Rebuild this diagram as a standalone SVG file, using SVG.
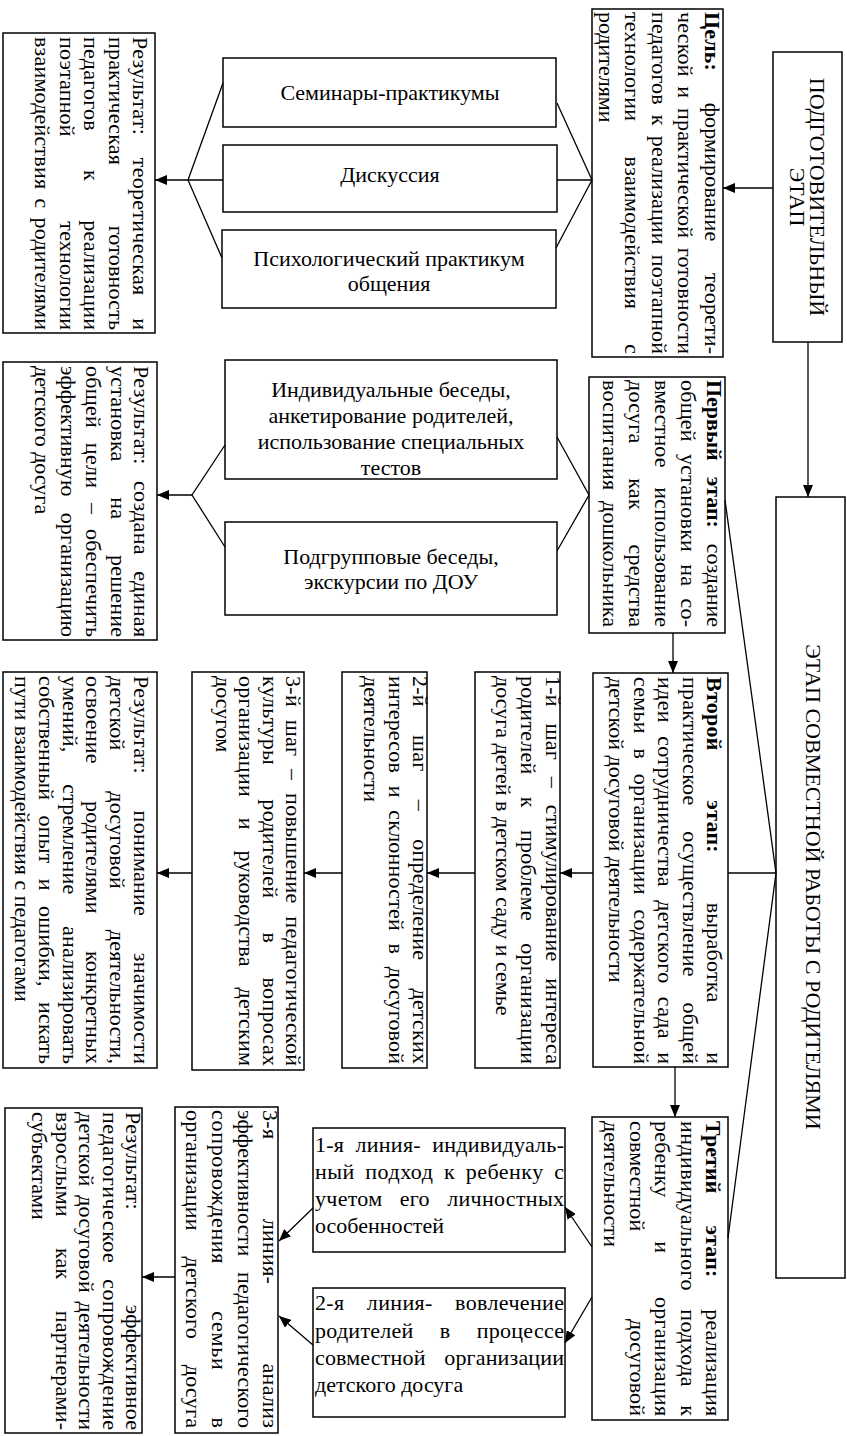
<svg xmlns="http://www.w3.org/2000/svg" width="847" height="1436" viewBox="0 0 847 1436">
<defs>
<style>
.box{fill:#fff;stroke:#000;stroke-width:1.5}
.t{font-family:"Liberation Serif","Times New Roman",serif;font-size:22px;fill:#000}
.c{text-anchor:middle}
.b{font-weight:bold}
.ln{fill:none;stroke:#000;stroke-width:1.3}
.ar{fill:none;stroke:#000;stroke-width:1.3;marker-end:url(#ah)}
</style>
<marker id="ah" viewBox="0 0 12 10" refX="12" refY="5" markerWidth="12" markerHeight="10" markerUnits="userSpaceOnUse" orient="auto"><path d="M0,0 L12,5 L0,10 z" fill="#000"/></marker>
</defs>
<rect width="847" height="1436" fill="#fff"/>

<g id="prep-stage">
<rect class="box" x="773" y="52" width="69" height="290"/>
<g transform="translate(842,52) rotate(90)">
<text class="t c" x="145" y="32">ПОДГОТОВИТЕЛЬНЫЙ</text>
<text class="t c" x="145" y="52">ЭТАП</text>
</g>
</g>

<g id="prep-goal">
<rect class="box" x="592" y="9" width="131" height="348"/>
<g transform="translate(723,9) rotate(90)">
<text class="t" x="3" y="18" textLength="342" lengthAdjust="spacing" word-spacing="26"><tspan class="b">Цель:</tspan> формирование теорети-</text>
<text class="t" x="3" y="45" textLength="342" lengthAdjust="spacing" word-spacing="4">ческой и практической готовности</text>
<text class="t" x="3" y="71.5" textLength="342" lengthAdjust="spacing" word-spacing="4.5">педагогов к реализации поэтапной</text>
<text class="t" x="3" y="98" textLength="342" lengthAdjust="spacing" word-spacing="29.5">технологии взаимодействия с</text>
<text class="t" x="3" y="124.5">родителями</text>
</g>
</g>

<g id="joint-stage">
<rect class="box" x="776" y="497" width="69" height="781"/>
<g transform="translate(845,497) rotate(90)">
<text class="t c" x="390" y="39">ЭТАП СОВМЕСТНОЙ РАБОТЫ С РОДИТЕЛЯМИ</text>
</g>
</g>

<g id="seminars">
<rect class="box" x="223" y="58" width="333" height="69"/>
<text class="t c" x="390" y="100">Семинары-практикумы</text>
</g>
<g id="discussion">
<rect class="box" x="223" y="145" width="334" height="67"/>
<text class="t c" x="390" y="182">Дискуссия</text>
</g>
<g id="psych">
<rect class="box" x="222" y="230" width="334" height="78"/>
<text class="t c" x="389" y="266">Психологический практикум</text>
<text class="t c" x="389" y="291">общения</text>
</g>

<g id="result1">
<rect class="box" x="3" y="33" width="152" height="300"/>
<g transform="translate(155,33) rotate(90)">
<text class="t" x="4" y="22" textLength="293" lengthAdjust="spacing" word-spacing="17">Результат: теоретическая и</text>
<text class="t" x="4" y="46.5" textLength="293" lengthAdjust="spacing" word-spacing="55">практическая готовность</text>
<text class="t" x="4" y="71" textLength="293" lengthAdjust="spacing" word-spacing="33.5">педагогов к реализации</text>
<text class="t" x="4" y="95.5" textLength="293" lengthAdjust="spacing" word-spacing="79">поэтапной технологии</text>
<text class="t" x="4" y="120" textLength="293" lengthAdjust="spacing" word-spacing="3.5">взаимодействия с родителями</text>
</g>
</g>

<g id="stage1">
<rect class="box" x="589" y="377" width="136" height="256"/>
<g transform="translate(725,377) rotate(90)">
<text class="t" x="3" y="18" textLength="247" lengthAdjust="spacing" word-spacing="10.5"><tspan class="b">Первый этап:</tspan> создание</text>
<text class="t" x="3" y="44" textLength="247" lengthAdjust="spacing" word-spacing="6.5">общей установки на со-</text>
<text class="t" x="3" y="70" textLength="247" lengthAdjust="spacing" word-spacing="14">вместное использование</text>
<text class="t" x="3" y="96" textLength="247" lengthAdjust="spacing" word-spacing="29">досуга как средства</text>
<text class="t" x="3" y="122" textLength="247" lengthAdjust="spacing" word-spacing="5">воспитания дошкольника</text>
</g>
</g>

<g id="talks">
<rect class="box" x="225" y="360" width="332" height="119"/>
<text class="t c" x="391" y="397">Индивидуальные беседы,</text>
<text class="t c" x="391" y="423">анкетирование родителей,</text>
<text class="t c" x="391" y="449">использование специальных</text>
<text class="t c" x="391" y="475">тестов</text>
</g>
<g id="group-talks">
<rect class="box" x="225" y="522" width="332" height="93"/>
<text class="t c" x="391" y="564">Подгрупповые беседы,</text>
<text class="t c" x="391" y="589">экскурсии по ДОУ</text>
</g>

<g id="result2">
<rect class="box" x="3" y="362" width="154" height="278"/>
<g transform="translate(157,362) rotate(90)">
<text class="t" x="4" y="23" textLength="271" lengthAdjust="spacing" word-spacing="10.5">Результат: создана единая</text>
<text class="t" x="4" y="46" textLength="271" lengthAdjust="spacing" word-spacing="30">установка на решение</text>
<text class="t" x="4" y="71" textLength="271" lengthAdjust="spacing" word-spacing="9">общей цели – обеспечить</text>
<text class="t" x="4" y="96" textLength="271" lengthAdjust="spacing" word-spacing="10.5">эффективную организацию</text>
<text class="t" x="4" y="122">детского досуга</text>
</g>
</g>

<g id="stage2">
<rect class="box" x="593" y="673" width="135" height="394"/>
<g transform="translate(728,673) rotate(90)">
<text class="t" x="4" y="21" textLength="387" lengthAdjust="spacing" word-spacing="44"><tspan class="b">Второй этап:</tspan> выработка и</text>
<text class="t" x="4" y="45.5" textLength="387" lengthAdjust="spacing" word-spacing="20">практическое осуществление общей</text>
<text class="t" x="4" y="70" textLength="387" lengthAdjust="spacing" word-spacing="7.5">идеи сотрудничества детского сада и</text>
<text class="t" x="4" y="94.5" textLength="387" lengthAdjust="spacing" word-spacing="9">семьи в организации содержательной</text>
<text class="t" x="4" y="119">детской досуговой деятельности</text>
</g>
</g>

<g id="step1">
<rect class="box" x="475" y="672" width="85" height="396"/>
<g transform="translate(560,672) rotate(90)">
<text class="t" x="4" y="14" textLength="388" lengthAdjust="spacing" word-spacing="11">1-й шаг – стимулирование интереса</text>
<text class="t" x="4" y="39" textLength="388" lengthAdjust="spacing" word-spacing="16.5">родителей к проблеме организации</text>
<text class="t" x="4" y="64">досуга детей в детском саду и семье</text>
</g>
</g>

<g id="step2">
<rect class="box" x="342" y="672" width="85" height="396"/>
<g transform="translate(427,672) rotate(90)">
<text class="t" x="4" y="14" textLength="388" lengthAdjust="spacing" word-spacing="22.5">2-й шаг – определение детских</text>
<text class="t" x="4" y="38" textLength="388" lengthAdjust="spacing" word-spacing="7">интересов и склонностей в досуговой</text>
<text class="t" x="4" y="63">деятельности</text>
</g>
</g>

<g id="step3">
<rect class="box" x="192" y="672" width="112" height="398"/>
<g transform="translate(304,672) rotate(90)">
<text class="t" x="4" y="18" textLength="390" lengthAdjust="spacing" word-spacing="7">3-й шаг – повышение педагогической</text>
<text class="t" x="4" y="41" textLength="390" lengthAdjust="spacing" word-spacing="28.5">культуры родителей в вопросах</text>
<text class="t" x="4" y="65" textLength="390" lengthAdjust="spacing" word-spacing="15">организации и руководства детским</text>
<text class="t" x="4" y="88">досугом</text>
</g>
</g>

<g id="result3">
<rect class="box" x="3" y="672" width="154" height="396"/>
<g transform="translate(157,672) rotate(90)">
<text class="t" x="4" y="23" textLength="388" lengthAdjust="spacing" word-spacing="31">Результат: понимание значимости</text>
<text class="t" x="4" y="47" textLength="388" lengthAdjust="spacing" word-spacing="35">детской досуговой деятельности,</text>
<text class="t" x="4" y="71" textLength="388" lengthAdjust="spacing" word-spacing="31.5">освоение родителями конкретных</text>
<text class="t" x="4" y="94.5" textLength="388" lengthAdjust="spacing" word-spacing="26">умений, стремление анализировать</text>
<text class="t" x="4" y="118" textLength="388" lengthAdjust="spacing" word-spacing="9.5">собственный опыт и ошибки, искать</text>
<text class="t" x="4" y="142">пути взаимодействия с педагогами</text>
</g>
</g>

<g id="stage3">
<rect class="box" x="592" y="1117" width="136" height="303"/>
<g transform="translate(728,1117) rotate(90)">
<text class="t" x="4" y="22" textLength="295" lengthAdjust="spacing" word-spacing="26.5"><tspan class="b">Третий этап:</tspan> реализация</text>
<text class="t" x="4" y="47.5" textLength="295" lengthAdjust="spacing" word-spacing="12.5">индивидуального подхода к</text>
<text class="t" x="4" y="73" textLength="295" lengthAdjust="spacing" word-spacing="38">ребенку и организация</text>
<text class="t" x="4" y="98.5" textLength="295" lengthAdjust="spacing" word-spacing="82">совместной досуговой</text>
<text class="t" x="4" y="124">деятельности</text>
</g>
</g>

<g id="line1">
<rect class="box" x="313" y="1128" width="252" height="124"/>
<text class="t" x="315" y="1152" textLength="249" lengthAdjust="spacing" word-spacing="5.5">1-я линия- индивидуаль-</text>
<text class="t" x="315" y="1179" textLength="249" lengthAdjust="spacing" word-spacing="4.5">ный подход к ребенку с</text>
<text class="t" x="315" y="1206" textLength="249" lengthAdjust="spacing" word-spacing="11.5">учетом его личностных</text>
<text class="t" x="315" y="1233">особенностей</text>
</g>
<g id="line2">
<rect class="box" x="313" y="1288" width="252" height="129"/>
<text class="t" x="315" y="1310" textLength="249" lengthAdjust="spacing" word-spacing="16.5">2-я линия- вовлечение</text>
<text class="t" x="315" y="1338" textLength="249" lengthAdjust="spacing" word-spacing="20.5">родителей в процессе</text>
<text class="t" x="315" y="1365" textLength="249" lengthAdjust="spacing" word-spacing="13">совместной организации</text>
<text class="t" x="315" y="1392">детского досуга</text>
</g>

<g id="line3">
<rect class="box" x="175" y="1107" width="103" height="326"/>
<g transform="translate(278,1107) rotate(90)">
<text class="t" x="3" y="15" textLength="318" lengthAdjust="spacing" word-spacing="73.5">3-я линия- анализ</text>
<text class="t" x="3" y="40" textLength="318" lengthAdjust="spacing" word-spacing="10">эффективности педагогического</text>
<text class="t" x="3" y="66" textLength="318" lengthAdjust="spacing" word-spacing="41">сопровождения семьи в</text>
<text class="t" x="3" y="92" textLength="318" lengthAdjust="spacing" word-spacing="20">организации детского досуга</text>
</g>
</g>

<g id="result4">
<rect class="box" x="5" y="1108" width="137" height="325"/>
<g transform="translate(142,1108) rotate(90)">
<text class="t" x="4" y="16" textLength="318" lengthAdjust="spacing" word-spacing="89">Результат: эффективное</text>
<text class="t" x="4" y="39.5" textLength="318" lengthAdjust="spacing" word-spacing="10">педагогическое сопровождение</text>
<text class="t" x="4" y="63" textLength="318" lengthAdjust="spacing" word-spacing="3">детской досуговой деятельности</text>
<text class="t" x="4" y="86.5" textLength="318" lengthAdjust="spacing" word-spacing="25.5">взрослыми как партнерами-</text>
<text class="t" x="4" y="110">субъектами</text>
</g>
</g>

<g id="connectors">
<path class="ar" d="M773,188 H723"/>
<path class="ar" d="M808,342 V497"/>
<path class="ln" d="M557,103 L592,180 M557,180 H592 M556,248 L592,180"/>
<path class="ln" d="M223,83 L188,180 M223,180 H188 M222,258 L188,180"/>
<path class="ar" d="M188,180 H155"/>
<path class="ln" d="M776,873 L725,500 M776,873 H728 M776,873 L728,1238"/>
<path class="ar" d="M673,633 V673"/>
<path class="ar" d="M675,1067 V1117"/>
<path class="ln" d="M557,437 L589,495 L557,551"/>
<path class="ln" d="M225,445 L192,495 L225,547"/>
<path class="ar" d="M192,495 H157"/>
<path class="ar" d="M593,873 H560"/>
<path class="ar" d="M475,873 H427"/>
<path class="ar" d="M342,873 H304"/>
<path class="ar" d="M192,873 H157"/>
<path class="ar" d="M592,1247 L565,1207"/>
<path class="ar" d="M592,1297 L565,1343"/>
<path class="ar" d="M313,1208 L279,1241"/>
<path class="ar" d="M313,1345 L279,1316"/>
<path class="ar" d="M175,1277 H142"/>
</g>
</svg>
